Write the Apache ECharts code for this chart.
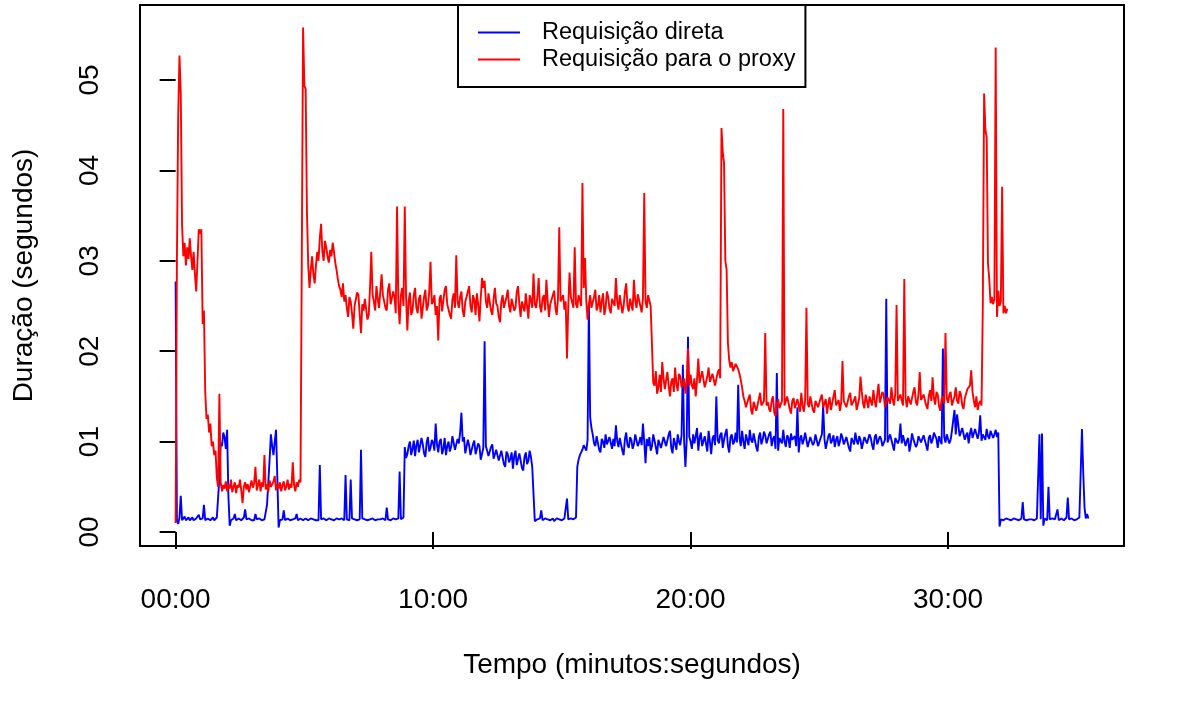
<!DOCTYPE html>
<html>
<head>
<meta charset="utf-8">
<script src="https://cdn.jsdelivr.net/npm/echarts@6/dist/echarts.min.js"></script>
<style>
  html, body { margin: 0; padding: 0; background: #fff; }
  #chart { width: 1196px; height: 721px; }
</style>
</head>
<body>
<div id="chart"></div>
<script>
// one sample every 3 seconds, starting at 00:00 (one row = one minute)
const stepSeconds = 3;

const seriesNames = ["Requisição direta", "Requisição para o proxy"];

// duration in seconds, direct request
const directValues = [
  2.77, 0.12, 0.09, 0.16, 0.40, 0.13, 0.15, 0.17, 0.13, 0.14, 0.16, 0.13, 0.14, 0.16, 0.13, 0.15, 0.15, 0.13, 0.19, 0.14,
  0.14, 0.15, 0.30, 0.13, 0.13, 0.15, 0.15, 0.13, 0.14, 0.16, 0.13, 0.14, 0.16, 0.14, 0.60, 0.98, 0.95, 1.10, 1.05, 0.92,
  1.13, 0.40, 0.07, 0.13, 0.14, 0.15, 0.20, 0.13, 0.13, 0.15, 0.15, 0.13, 0.14, 0.16, 0.25, 0.14, 0.13, 0.15, 0.14, 0.13,
  0.15, 0.13, 0.20, 0.14, 0.13, 0.15, 0.14, 0.13, 0.15, 0.14, 0.13, 0.30, 0.55, 0.80, 1.08, 0.95, 0.85, 1.00, 1.13, 0.60,
  0.05, 0.13, 0.15, 0.14, 0.24, 0.13, 0.13, 0.15, 0.14, 0.13, 0.15, 0.14, 0.13, 0.15, 0.20, 0.13, 0.14, 0.15, 0.15, 0.13,
  0.13, 0.15, 0.16, 0.13, 0.14, 0.15, 0.13, 0.14, 0.15, 0.13, 0.14, 0.13, 0.74, 0.14, 0.12, 0.15, 0.15, 0.13, 0.14, 0.15,
  0.13, 0.14, 0.15, 0.13, 0.14, 0.15, 0.16, 0.14, 0.13, 0.15, 0.14, 0.13, 0.63, 0.14, 0.15, 0.13, 0.58, 0.15, 0.13, 0.14,
  0.14, 0.13, 0.15, 0.14, 0.91, 0.15, 0.13, 0.14, 0.14, 0.13, 0.15, 0.14, 0.13, 0.15, 0.14, 0.13, 0.15, 0.14, 0.13, 0.14,
  0.14, 0.15, 0.15, 0.13, 0.27, 0.14, 0.14, 0.13, 0.13, 0.15, 0.15, 0.14, 0.14, 0.15, 0.67, 0.14, 0.15, 0.16, 0.94, 0.82,
  0.86, 0.95, 1.00, 0.85, 0.92, 1.01, 0.84, 0.96, 1.02, 0.88, 0.90, 1.04, 0.97, 0.87, 0.83, 0.99, 1.05, 0.89, 0.93, 1.02,
  0.99, 0.90, 1.20, 0.97, 0.88, 1.00, 1.03, 0.86, 0.92, 1.04, 0.85, 0.95, 1.00, 0.89, 0.94, 1.06, 1.07, 0.91, 0.90, 1.03,
  0.98, 1.10, 1.32, 1.00, 1.05, 0.87, 0.89, 1.02, 0.96, 0.85, 0.84, 0.97, 1.01, 0.86, 0.88, 0.98, 0.95, 0.80, 0.82, 0.93,
  2.11, 0.95, 0.90, 0.84, 0.83, 0.94, 0.97, 0.81, 0.80, 0.91, 0.92, 0.79, 0.78, 0.90, 0.88, 0.75, 0.72, 0.89, 0.86, 0.77,
  0.81, 0.88, 0.70, 0.84, 0.90, 0.74, 0.76, 0.87, 0.85, 0.71, 0.68, 0.83, 0.88, 0.75, 0.79, 0.90, 0.83, 0.72, 0.74, 0.12,
  0.10, 0.14, 0.13, 0.15, 0.24, 0.13, 0.14, 0.15, 0.13, 0.14, 0.15, 0.13, 0.14, 0.15, 0.12, 0.14, 0.15, 0.13, 0.14, 0.15,
  0.13, 0.14, 0.15, 0.13, 0.37, 0.14, 0.14, 0.15, 0.13, 0.14, 0.15, 0.16, 0.72, 0.80, 0.85, 0.88, 0.91, 0.96, 0.98, 0.90,
  1.02, 2.53, 1.27, 1.15, 1.08, 0.98, 0.95, 1.06, 1.05, 0.91, 0.88, 1.03, 1.00, 0.93, 1.08, 0.97, 0.96, 1.05, 1.03, 0.92,
  1.03, 0.95, 1.18, 1.01, 0.94, 1.04, 1.06, 0.90, 0.85, 1.03, 1.10, 0.96, 0.93, 1.05, 1.02, 0.92, 0.97, 1.08, 1.07, 0.95,
  0.99, 1.05, 0.96, 1.20, 1.00, 0.76, 1.03, 0.95, 1.05, 0.90, 0.95, 1.08, 1.10, 0.94, 0.86, 1.02, 1.04, 0.93, 0.92, 1.05,
  1.06, 0.95, 0.97, 1.08, 1.12, 0.93, 0.87, 1.04, 1.03, 0.91, 1.08, 1.00, 0.96, 1.07, 1.85, 1.00, 0.72, 1.02, 2.16, 1.05,
  1.00, 0.92, 1.08, 0.98, 1.06, 1.15, 0.90, 1.04, 1.10, 0.95, 0.93, 1.06, 1.05, 0.89, 1.12, 1.00, 0.86, 1.03, 1.07, 0.96,
  1.50, 1.02, 0.98, 1.07, 1.10, 0.93, 1.02, 1.09, 1.14, 0.95, 0.88, 1.05, 1.08, 0.97, 1.00, 1.10, 0.99, 1.63, 1.04, 0.95,
  1.12, 1.00, 0.92, 1.08, 1.06, 0.96, 1.13, 1.02, 0.99, 1.09, 1.08, 0.94, 0.89, 1.05, 1.10, 0.97, 1.02, 1.11, 1.07, 0.98,
  0.96, 1.08, 1.11, 0.95, 1.03, 1.06, 0.92, 1.76, 0.90, 1.04, 1.06, 0.98, 1.13, 1.00, 0.94, 1.07, 1.04, 0.93, 1.09, 1.02,
  1.00, 1.06, 0.95, 1.38, 0.88, 1.03, 1.07, 0.97, 1.02, 1.10, 1.10, 0.94, 0.93, 1.05, 1.05, 0.96, 0.99, 1.08, 1.08, 0.95,
  0.96, 1.04, 1.08, 1.40, 1.03, 0.92, 0.90, 1.06, 1.09, 0.98, 1.01, 1.07, 0.94, 1.02, 1.06, 0.95, 1.00, 1.09, 1.04, 0.97,
  0.98, 1.05, 1.07, 0.93, 0.89, 1.04, 1.03, 0.97, 1.10, 1.01, 0.97, 1.06, 1.02, 0.92, 0.93, 1.05, 1.06, 0.98, 1.00, 1.08,
  1.04, 0.96, 0.91, 1.05, 1.08, 0.97, 0.99, 1.06, 1.03, 0.95, 0.94, 1.02, 2.58, 0.99, 1.01, 1.08, 1.07, 0.96, 0.90, 1.04,
  1.05, 0.98, 1.02, 1.20, 0.98, 1.07, 1.06, 0.95, 1.01, 1.04, 0.89, 0.97, 1.09, 1.03, 1.03, 0.94, 0.97, 1.06, 1.08, 0.99,
  1.00, 1.07, 1.05, 0.96, 0.90, 1.04, 1.07, 0.98, 1.02, 1.10, 1.10, 1.03, 0.93, 1.06, 1.04, 0.97, 2.03, 1.05, 0.99, 1.08,
  1.06, 0.98, 1.02, 1.12, 1.12, 1.35, 1.08, 1.30, 1.30, 1.06, 1.04, 1.15, 1.13, 1.02, 1.07, 1.10, 0.98, 1.09, 1.15, 1.04,
  1.06, 1.14, 1.12, 1.03, 1.10, 1.29, 1.01, 1.08, 1.10, 1.02, 1.14, 1.06, 1.03, 1.12, 1.11, 1.04, 1.08, 1.13, 1.05, 1.10,
  0.06, 0.14, 0.14, 0.13, 0.13, 0.15, 0.15, 0.14, 0.14, 0.13, 0.13, 0.15, 0.15, 0.14, 0.14, 0.13, 0.13, 0.15, 0.33, 0.14,
  0.14, 0.13, 0.15, 0.14, 0.13, 0.14, 0.15, 0.13, 0.14, 0.15, 0.14, 1.08, 0.14, 1.09, 0.07, 0.15, 0.14, 0.13, 0.50, 0.14,
  0.14, 0.15, 0.13, 0.14, 0.15, 0.25, 0.13, 0.14, 0.15, 0.14, 0.13, 0.15, 0.16, 0.38, 0.14, 0.13, 0.15, 0.14, 0.13, 0.14,
  0.14, 0.15, 0.16, 0.15, 1.14, 0.66, 0.27, 0.15, 0.20, 0.15
];

// duration in seconds, request through the proxy
const proxyValues = [
  0.10, 3.00, 4.60, 5.27, 4.85, 3.40, 3.05, 3.20, 2.95, 3.15, 3.02, 3.25, 3.05, 2.90, 3.10, 2.85, 2.66, 3.00, 3.35, 3.30,
  3.35, 2.30, 2.45, 1.55, 1.25, 1.30, 1.10, 1.20, 0.95, 1.00, 0.85, 0.90, 0.60, 0.50, 1.53, 0.55, 0.45, 0.52, 0.48, 0.56,
  0.45, 0.52, 0.48, 0.58, 0.44, 0.50, 0.55, 0.43, 0.52, 0.49, 0.58, 0.46, 0.32, 0.50, 0.55, 0.47, 0.53, 0.44, 0.51, 0.57,
  0.49, 0.54, 0.72, 0.46, 0.52, 0.58, 0.45, 0.55, 0.50, 0.85, 0.47, 0.53, 0.44, 0.57, 0.50, 0.48, 0.56, 0.62, 0.46, 0.53,
  0.48, 0.55, 0.45, 0.52, 0.56, 0.46, 0.50, 0.58, 0.47, 0.53, 0.49, 0.77, 0.52, 0.45, 0.55, 0.50, 0.58, 0.55, 3.00, 5.58,
  4.94, 4.90, 3.55, 2.95, 2.70, 2.90, 3.05, 2.85, 2.75, 2.95, 3.10, 3.00, 3.25, 3.41, 3.10, 3.00, 3.22, 3.15, 3.05, 2.98,
  3.12, 3.05, 3.20, 3.10, 2.98, 2.90, 2.80, 2.72, 2.68, 2.60, 2.75, 2.55, 2.62, 2.48, 2.38, 2.60, 2.55, 2.42, 2.25, 2.50,
  2.50, 2.65, 2.62, 2.40, 2.20, 2.52, 2.45, 2.58, 2.60, 2.35, 2.40, 2.70, 3.10, 2.62, 2.55, 2.45, 2.72, 2.58, 2.48, 2.66,
  2.85, 2.62, 2.60, 2.48, 2.45, 2.68, 2.75, 2.52, 2.50, 2.66, 2.60, 2.42, 3.60, 2.55, 2.30, 2.62, 2.70, 2.50, 3.60, 2.60,
  2.23, 2.55, 2.65, 2.40, 2.45, 2.62, 2.70, 2.48, 2.42, 2.58, 2.62, 2.36, 2.38, 2.60, 2.68, 2.45, 2.50, 2.66, 2.99, 2.52,
  2.55, 2.62, 2.40, 2.50, 2.12, 2.58, 2.62, 2.44, 2.45, 2.68, 2.72, 2.52, 2.50, 2.40, 2.36, 2.57, 2.64, 2.48, 3.06, 2.55,
  2.48, 2.60, 2.66, 2.45, 2.38, 2.55, 2.60, 2.66, 2.72, 2.50, 2.43, 2.62, 2.57, 2.40, 2.64, 2.52, 2.33, 2.58, 2.81, 2.70,
  2.78, 2.55, 2.48, 2.64, 2.62, 2.45, 2.40, 2.58, 2.70, 2.53, 2.50, 2.38, 2.32, 2.55, 2.62, 2.48, 2.46, 2.60, 2.68, 2.50,
  2.43, 2.58, 2.60, 2.45, 2.48, 2.66, 2.72, 2.52, 2.38, 2.55, 2.57, 2.44, 2.64, 2.50, 2.36, 2.62, 2.57, 2.48, 2.86, 2.52,
  2.48, 2.60, 2.81, 2.50, 2.43, 2.58, 2.62, 2.45, 2.79, 2.55, 2.38, 2.52, 2.57, 2.62, 2.67, 2.48, 2.40, 2.58, 3.37, 2.55,
  2.55, 2.62, 2.46, 2.55, 1.92, 2.50, 2.87, 2.60, 2.60, 2.48, 3.15, 2.52, 2.48, 2.62, 2.57, 2.50, 3.86, 2.70, 3.03, 2.55,
  2.35, 2.52, 2.62, 2.48, 2.46, 2.60, 2.68, 2.45, 2.50, 2.62, 2.43, 2.55, 2.64, 2.40, 2.48, 2.66, 2.60, 2.47, 2.42, 2.58,
  2.57, 2.50, 2.81, 2.55, 2.46, 2.62, 2.62, 2.42, 2.50, 2.66, 2.75, 2.50, 2.44, 2.58, 2.60, 2.45, 2.79, 2.56, 2.48, 2.63,
  2.64, 2.50, 2.43, 2.58, 3.75, 2.55, 2.48, 2.62, 2.60, 2.50, 2.52, 1.65, 1.62, 1.78, 1.53, 1.60, 1.74, 1.55, 1.88, 1.70,
  1.58, 1.68, 1.77, 1.62, 1.50, 1.66, 1.70, 1.55, 1.82, 1.64, 1.56, 1.75, 1.72, 1.60, 1.63, 1.70, 1.53, 1.66, 2.03, 1.62,
  1.74, 1.62, 1.58, 1.70, 1.50, 1.68, 1.92, 1.65, 1.66, 1.78, 1.77, 1.60, 1.60, 1.72, 1.82, 1.66, 1.64, 1.75, 1.76, 1.62,
  1.62, 1.76, 1.80, 1.70, 4.47, 4.20, 4.08, 3.00, 2.90, 2.09, 1.90, 1.82, 1.88, 1.78, 1.80, 1.86, 1.85, 1.80, 1.75, 1.68,
  1.60, 1.50, 1.45, 1.38, 1.36, 1.48, 1.52, 1.35, 1.30, 1.44, 1.46, 1.34, 1.34, 1.47, 1.54, 1.40, 1.38, 1.45, 2.20, 1.40,
  1.44, 1.36, 1.33, 1.46, 1.50, 1.32, 1.28, 1.42, 1.47, 1.37, 1.36, 1.45, 4.68, 1.40, 1.38, 1.50, 1.52, 1.36, 1.31, 1.45,
  1.48, 1.37, 1.35, 1.47, 1.45, 1.33, 1.54, 1.40, 1.33, 1.46, 2.48, 1.42, 1.38, 1.50, 1.49, 1.35, 1.32, 1.45, 1.46, 1.38,
  1.36, 1.48, 1.52, 1.38, 1.39, 1.47, 1.31, 1.42, 1.49, 1.35, 1.37, 1.50, 1.57, 1.40, 1.40, 1.46, 1.34, 1.43, 1.89, 1.45,
  1.47, 1.38, 1.36, 1.50, 1.54, 1.40, 1.38, 1.46, 1.50, 1.35, 1.33, 1.48, 1.72, 1.55, 1.42, 1.37, 1.52, 1.45, 1.37, 1.50,
  1.48, 1.40, 1.57, 1.45, 1.38, 1.52, 1.64, 1.43, 1.41, 1.55, 1.52, 1.38, 1.36, 1.49, 1.50, 1.42, 1.60, 1.47, 1.40, 1.53,
  2.51, 1.45, 1.43, 1.52, 1.54, 1.40, 2.80, 1.48, 1.38, 1.50, 1.52, 1.41, 1.42, 1.55, 1.60, 1.44, 1.40, 1.52, 1.77, 1.46,
  1.44, 1.52, 1.54, 1.40, 1.36, 1.50, 1.57, 1.45, 1.71, 1.48, 1.41, 1.55, 1.52, 1.39, 1.34, 1.47, 1.50, 1.42, 2.20, 1.48,
  1.43, 1.52, 1.55, 1.40, 1.38, 1.50, 1.60, 1.45, 1.42, 1.56, 1.52, 1.40, 1.36, 1.48, 1.49, 1.58, 1.57, 1.62, 1.79, 1.55,
  1.45, 1.38, 1.50, 1.35, 1.42, 1.45, 1.40, 2.50, 4.85, 4.45, 4.37, 2.97, 2.80, 2.53, 2.60, 2.52, 2.58, 5.36, 2.38, 2.67,
  2.50, 2.55, 3.82, 2.42, 2.50, 2.42, 2.47
];

const xTickSeconds = [0, 600, 1200, 1800];
const yTickValues = [0, 1, 2, 3, 4, 5];

function toPairs(values) {
  return values.map((v, i) => [i * stepSeconds, v]);
}

function mmss(sec) {
  const m = Math.floor(sec / 60);
  const s = Math.round(sec % 60);
  return String(m).padStart(2, "0") + ":" + String(s).padStart(2, "0");
}

const font = "Liberation Sans";
const chart = echarts.init(document.getElementById("chart"), null, { renderer: "canvas" });

const option = {
  animation: false,
  backgroundColor: "#fff",
  textStyle: { fontFamily: font, color: "#000" },
  grid: {
    left: 140, right: 72, top: 5, bottom: 175,
    show: true, borderColor: "#000", borderWidth: 2,
    containLabel: false
  },
  legend: {
    data: seriesNames,
    orient: "vertical",
    left: 458, top: 5,
    padding: [14, 10, 14, 20],
    itemGap: 0,
    itemWidth: 42,
    itemHeight: 2,
    icon: "rect",
    selectedMode: false,
    borderColor: "#000",
    borderWidth: 2,
    backgroundColor: "#fff",
    textStyle: {
      fontFamily: font, fontSize: 23.5, color: "#000",
      lineHeight: 27, padding: [0, 0, 0, 17]
    }
  },
  xAxis: {
    type: "value",
    min: -83, max: 2210,
    name: "Tempo (minutos:segundos)",
    nameLocation: "middle",
    nameGap: 105,
    nameTextStyle: { fontFamily: font, fontSize: 28, color: "#000" },
    axisLine: { show: false },
    splitLine: { show: false },
    axisTick: {
      show: true, length: 17, customValues: xTickSeconds,
      lineStyle: { color: "#000", width: 2 }
    },
    axisLabel: {
      customValues: xTickSeconds, margin: 40,
      fontFamily: font, fontSize: 28, color: "#000",
      formatter: (v) => mmss(v)
    }
  },
  yAxis: {
    type: "value",
    min: -0.155, max: 5.83,
    name: "Duração (segundos)",
    nameLocation: "middle",
    nameGap: 102,
    nameTextStyle: { fontFamily: font, fontSize: 28, color: "#000" },
    axisLine: { show: false },
    splitLine: { show: false },
    axisTick: {
      show: true, length: 16, customValues: yTickValues,
      lineStyle: { color: "#000", width: 2 }
    },
    axisLabel: {
      customValues: yTickValues, margin: 36, rotate: 90,
      fontFamily: font, fontSize: 28, color: "#000",
      formatter: (v) => "0" + v
    }
  },
  series: [
    {
      name: seriesNames[0],
      type: "line",
      data: toPairs(directValues),
      showSymbol: false,
      symbol: "none",
      color: "#0000ff",
      lineStyle: { color: "#0000ff", width: 1.9 },
      z: 2
    },
    {
      name: seriesNames[1],
      type: "line",
      data: toPairs(proxyValues),
      showSymbol: false,
      symbol: "none",
      color: "#ff0000",
      lineStyle: { color: "#ff0000", width: 1.9 },
      z: 3
    }
  ]
};

chart.setOption(option);
</script>
</body>
</html>
